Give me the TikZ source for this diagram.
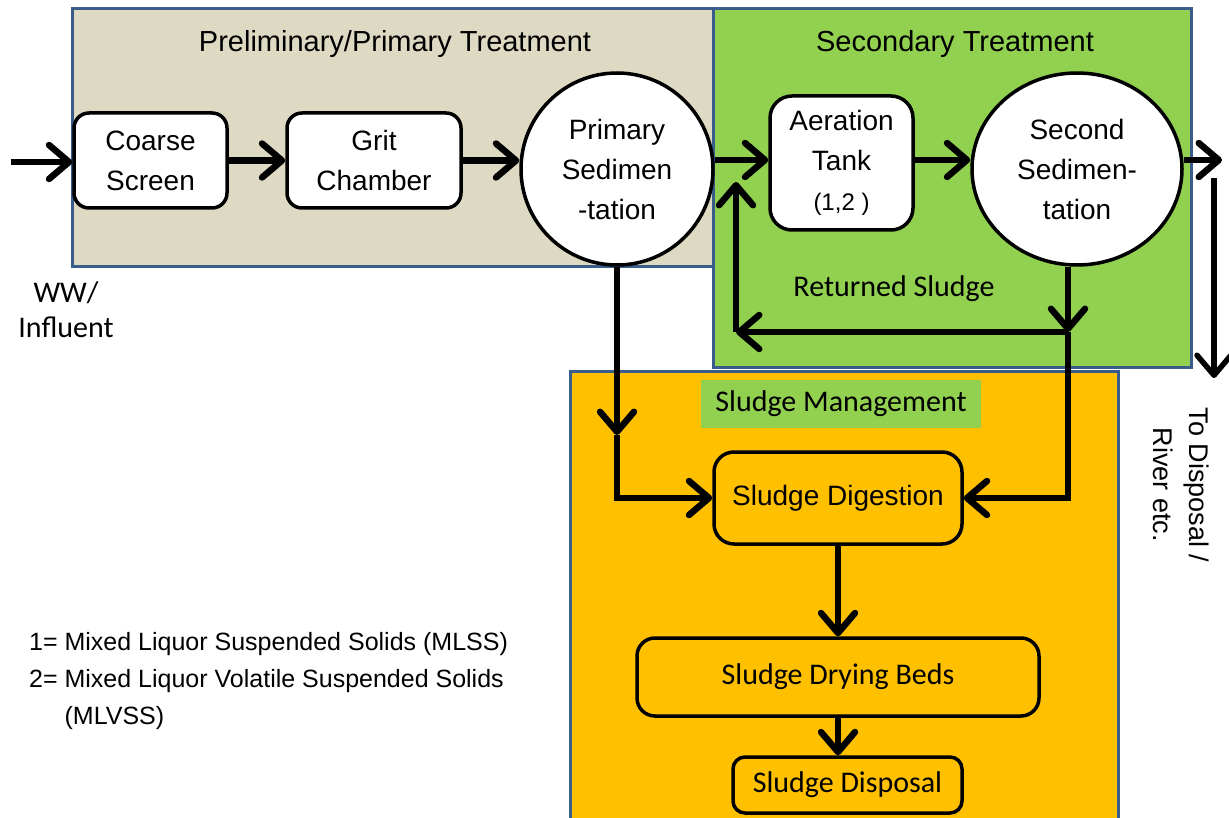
\documentclass[tikz,border=0pt]{standalone}
\usepackage{fontspec}
\setmainfont{Liberation Sans}
\newfontfamily\calibrifont{Carlito}
\usetikzlibrary{arrows.meta,shapes.geometric}

\definecolor{stageblue}{RGB}{56,93,138}
\definecolor{primtan}{RGB}{221,217,195}
\definecolor{secgreen}{RGB}{146,208,80}
\definecolor{sludgeorange}{RGB}{255,192,0}

\begin{document}
\begin{tikzpicture}[x=1pt, y=-1pt,
  stage/.style={draw=stageblue, line width=3pt},
  unit/.style={rectangle, rounded corners=15pt, draw, line width=3.5pt, fill=white, inner sep=0pt, align=center, font=\fontsize{28}{40}\selectfont},
  tank/.style={draw, line width=3.5pt, fill=white, inner sep=0pt, align=center, font=\fontsize{28}{40}\selectfont},
  sludgebox/.style={rectangle, rounded corners=18pt, draw, line width=3.5pt, fill=sludgeorange, inner sep=0pt},
  flow/.style={line width=6.5pt, -{Straight Barb[length=20pt, width=34pt, round]}},
]
  \clip (0,0) rectangle (1229,818);
  \fill[white] (0,0) rectangle (1229,818);
  % Panels
  \draw[stage, fill=primtan] (72,9) rectangle (713,267);
  \draw[stage, fill=secgreen] (713,9) rectangle (1191,367);
  \draw[stage, fill=sludgeorange] (570,371) rectangle (1118,840);
  \node (prim-title) [anchor=base, font=\fontsize{29}{34}\selectfont] at (395,52) {Preliminary/Primary Treatment};
  \node (sec-title) [anchor=base, font=\fontsize{29}{34}\selectfont] at (955,52) {Secondary Treatment};
  % Nodes
  \node (coarse-screen) [unit, minimum width=153pt, minimum height=95pt] at (150.5,160.5) {Coarse\\Screen};
  \node (grit-chamber) [unit, minimum width=174pt, minimum height=95pt] at (374,160.5) {Grit\\Chamber};
  \node (primary-sed) [tank, circle, minimum size=192pt] at (617,169) {Primary\\Sedimen\\-tation};
  \node (aeration-tank) [unit, rounded corners=22pt, minimum width=143pt, minimum height=134pt] at (841.5,163) {Aeration\\Tank\\{\fontsize{24}{30}\selectfont(1,2 )}};
  \node (second-sed) [tank, ellipse, minimum width=210pt, minimum height=192pt] at (1077,169) {Second\\Sedimen-\\tation};
  \node (returned) [anchor=base, font=\calibrifont\fontsize{30}{36}\selectfont] at (894,297) {Returned Sludge};
  \node (sludge-mgmt) [fill=secgreen, minimum width=280pt, minimum height=48pt, inner sep=0pt, font=\calibrifont\fontsize{30}{36}\selectfont] at (841,404) {Sludge Management};
  \node (sludge-digestion) [sludgebox, rounded corners=20pt, minimum width=248pt, minimum height=92pt, font=\fontsize{28}{34}\selectfont] at (838,498) {Sludge Digestion};
  \node (drying-beds) [sludgebox, minimum width=402pt, minimum height=78pt, font=\calibrifont\fontsize{30}{36}\selectfont] at (838,677) {Sludge Drying Beds};
  \node (sludge-disposal) [sludgebox, rounded corners=12pt, minimum width=229pt, minimum height=56pt, font=\calibrifont\fontsize{30}{36}\selectfont] at (847.5,785) {Sludge Disposal};
  \node (influent) [align=center, font=\calibrifont\fontsize{30}{35}\selectfont] at (66,310) {WW/\\Influent};
  \node (to-river) [rotate=-90, align=center, font=\fontsize{27}{36}\selectfont] at (1181,485) {To Disposal /\\River etc.};
  \node (notes) [anchor=north west, inner sep=0pt, align=left, font=\fontsize{25}{37}\selectfont] at (29,632) {1= Mixed Liquor Suspended Solids (MLSS)\\2= Mixed Liquor Volatile Suspended Solids\\\hphantom{2= }(MLVSS)};
  \coordinate (ww-in) at (11,162);
  \coordinate (outlet) at (1222,160);
  \coordinate (river-top) at (1214,178);
  \coordinate (river-end) at (1214,378);
  \coordinate (prim-drop) at (617,435);
  \coordinate (sec-split) at (1068,332);
  \coordinate (return-corner) at (736,332);
  \coordinate (return-end) at (736,182);
  % Arrow
  \draw[flow] (ww-in) -- (coarse-screen.west |- ww-in);
  \draw[flow] (coarse-screen) -- (grit-chamber);
  \draw[flow] (grit-chamber.east) -- (grit-chamber.east -| primary-sed.west);
  \draw[flow] (outlet -| primary-sed.east) -- (outlet -| aeration-tank.west);
  \draw[flow] (outlet -| aeration-tank.east) -- (outlet -| second-sed.west);
  \draw[flow] (outlet -| second-sed.east) -- (outlet);
  \draw[flow, line width=5.5pt] (river-top) -- (river-end);
  \draw[flow] (primary-sed.south) -- (prim-drop);
  \draw[flow] (prim-drop) |- (sludge-digestion.west);
  \draw[flow] (sec-split |- second-sed.south) -- (sec-split);
  \draw[flow] (sec-split) -- (return-corner);
  \draw[flow] (return-corner) -- (return-end);
  \draw[flow] (sec-split) |- (sludge-digestion.east);
  \draw[flow] (sludge-digestion) -- (drying-beds);
  \draw[flow] (drying-beds.south -| sludge-digestion.south) -- (sludge-disposal.north -| sludge-digestion.south);
\end{tikzpicture}
\end{document}
